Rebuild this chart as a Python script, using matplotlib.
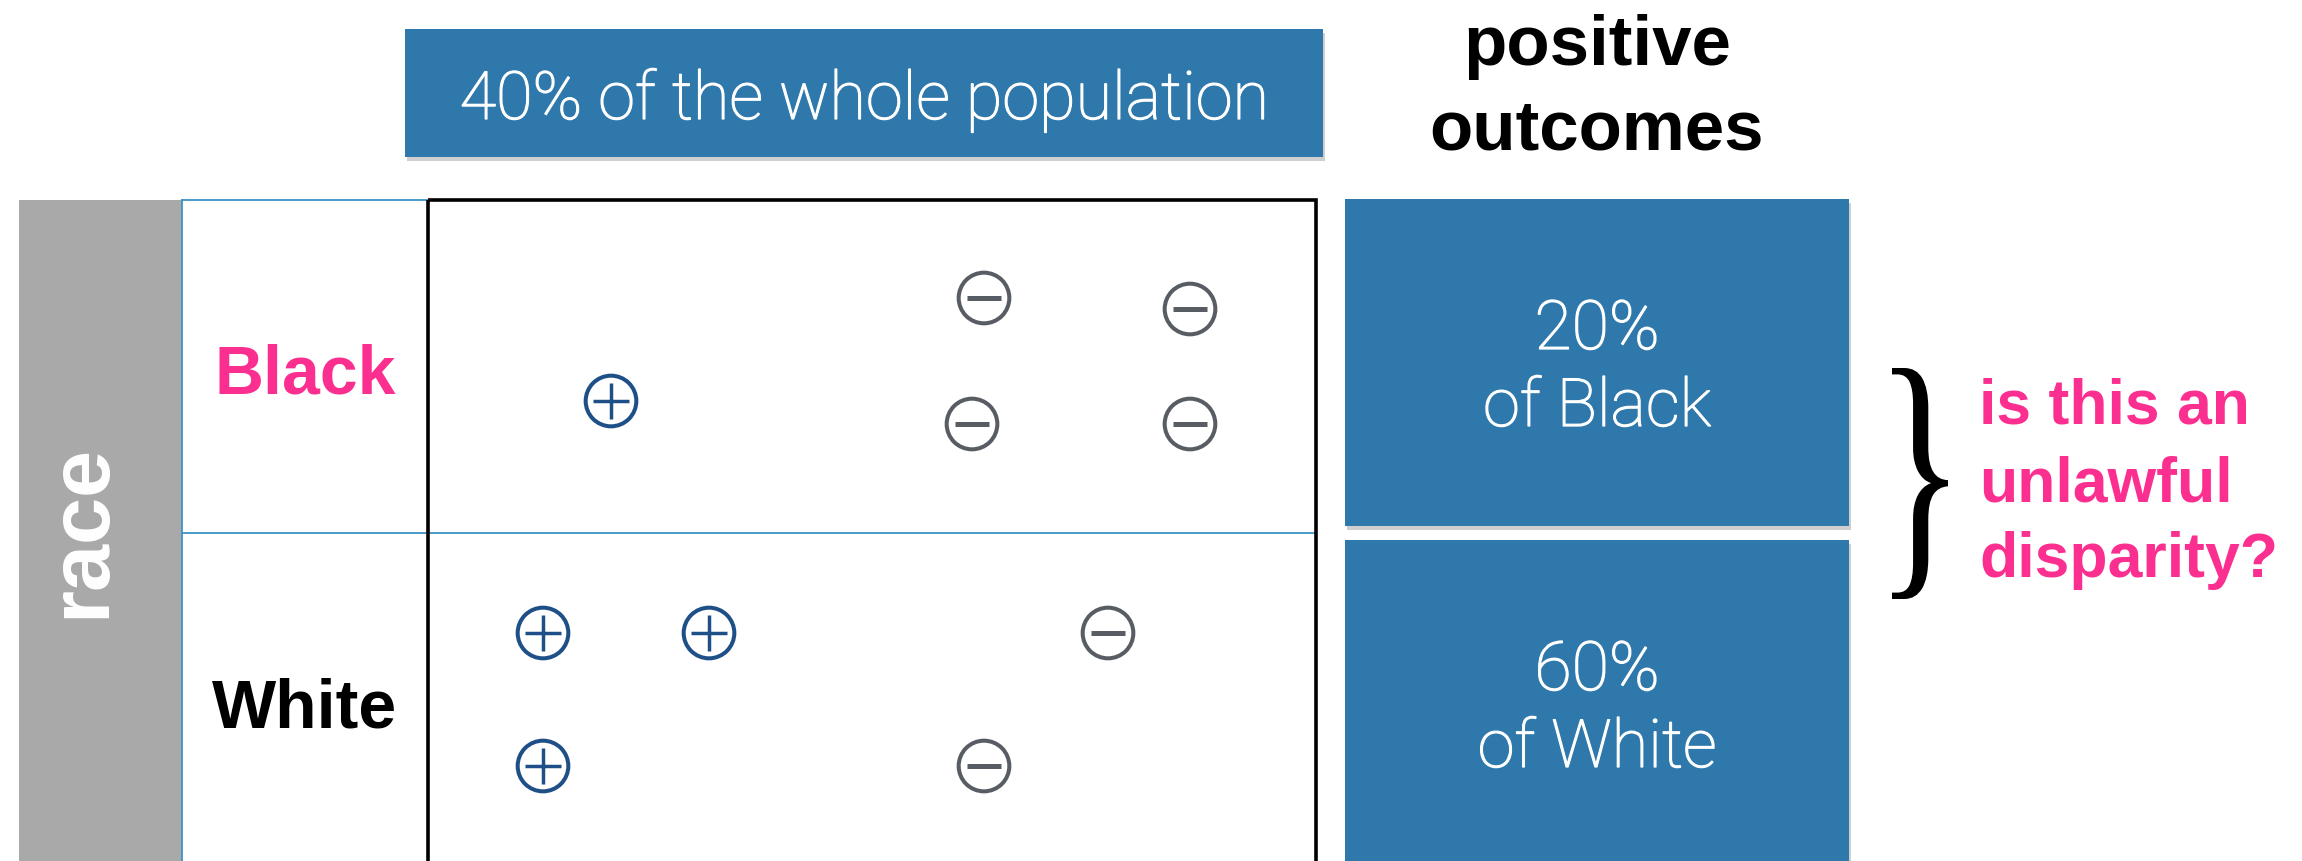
import matplotlib.pyplot as plt
import matplotlib.patheffects as pe
from matplotlib.patches import Rectangle, PathPatch
from matplotlib.textpath import TextPath
from matplotlib.font_manager import FontProperties
from matplotlib.transforms import Affine2D

# groups and their share of positive outcomes
groups = ["Black", "White"]
group_colors = ["#fb2f8f", "black"]
shares = ["20%", "60%"]
overall = "40% of the whole population"

# positive / negative individuals inside the table (pixel positions of the diagram)
plus_x = [611, 543, 709, 543]
plus_y = [401, 633, 633, 766]
minus_x = [984, 1190, 972, 1190, 1108, 984]
minus_y = [298, 309, 424, 424, 633, 766]

blue = "#2f78ab"
pink = "#fb2f8f"
light = dict(family=["Roboto", "DejaVu Sans"], weight="light", color="white",
             path_effects=[pe.withStroke(linewidth=0.9, foreground="white")])
bold = dict(family=["Liberation Sans", "DejaVu Sans"], weight="bold")

fig = plt.figure(figsize=(23.02, 8.61), dpi=100)
ax = fig.add_axes([0, 0, 1, 1])
ax.set_xlim(0, 2302)
ax.set_ylim(861, 0)
ax.axis("off")


def box(x, y, w, h):
    # blue card with a soft shadow under it
    ax.add_patch(Rectangle((x + 2, y + 4), w, h, color="#777777", alpha=0.35, lw=0, zorder=1))
    ax.add_patch(Rectangle((x, y), w, h, color=blue, lw=0, zorder=2))


# top card
box(405, 29, 918, 128)
ax.text(864, 119, overall, ha="center", va="baseline", fontsize=48, zorder=3, **light)

# header on the right
ax.text(1597, 65, "positive", ha="center", va="baseline", fontsize=51, **bold)
ax.text(1597, 149, "outcomes", ha="center", va="baseline", fontsize=51, **bold)

# grey "race" band
ax.add_patch(Rectangle((19, 200), 163, 700, color="#a9a9a9", lw=0))
ax.text(82, 531, "race", rotation=90, ha="center", va="center", color="white",
        fontsize=61, **bold)

# thin blue grid
line_c = "#3d93c8"
ax.plot([182, 428], [200, 200], color=line_c, lw=1.3)
ax.plot([182, 1316], [533, 533], color=line_c, lw=1.3)
ax.plot([182, 182], [200, 861], color=line_c, lw=1.3)

# black table frame
ax.add_patch(Rectangle((428, 200), 888, 700, fill=False, ec="black", lw=2.6, zorder=4))

# row labels, outcome cards
label_base = [393, 728]
card_top = [199, 540]
for i, g in enumerate(groups):
    ax.text(305, label_base[i], g, ha="center", va="baseline", color=group_colors[i],
            fontsize=49, **bold)
    box(1345, card_top[i], 504, 327 if i == 0 else 340)
    ax.text(1597, card_top[i] + 150, shares[i], ha="center", va="baseline",
            fontsize=49, zorder=3, **light)
    ax.text(1597, card_top[i] + 227, "of " + g, ha="center", va="baseline",
            fontsize=48, zorder=3, **light)

# markers
ax.scatter(plus_x, plus_y, s=1330, facecolors="none", edgecolors="#1f4f87",
           linewidths=2.9, zorder=5)
ax.scatter(plus_x, plus_y, s=700, marker="+", color="#1f4f87", linewidths=2.5, zorder=5)
ax.scatter(minus_x, minus_y, s=1330, facecolors="none", edgecolors="#585c63",
           linewidths=2.9, zorder=5)
ax.scatter(minus_x, minus_y, s=600, marker="_", color="#585c63", linewidths=3.6, zorder=5)

# curly brace, stretched glyph
tp = TextPath((0, 0), "}", size=100, prop=FontProperties(family="Liberation Serif"))
ext = tp.get_extents()
x0, x1, y0, y1 = 1892, 1948, 368, 599
tr = (Affine2D().translate(-ext.x0, -ext.y0)
      .scale((x1 - x0) / ext.width, -(y1 - y0) / ext.height)
      .translate(x0, y1))
ax.add_patch(PathPatch(tr.transform_path(tp), color="black", lw=0))

# question
for txt, yb in zip(["is this an", "unlawful", "disparity?"], [424, 501, 577]):
    ax.text(1979, yb, txt, ha="left", va="baseline", color=pink, fontsize=45, **bold)

fig.savefig("out.png", dpi=100)
